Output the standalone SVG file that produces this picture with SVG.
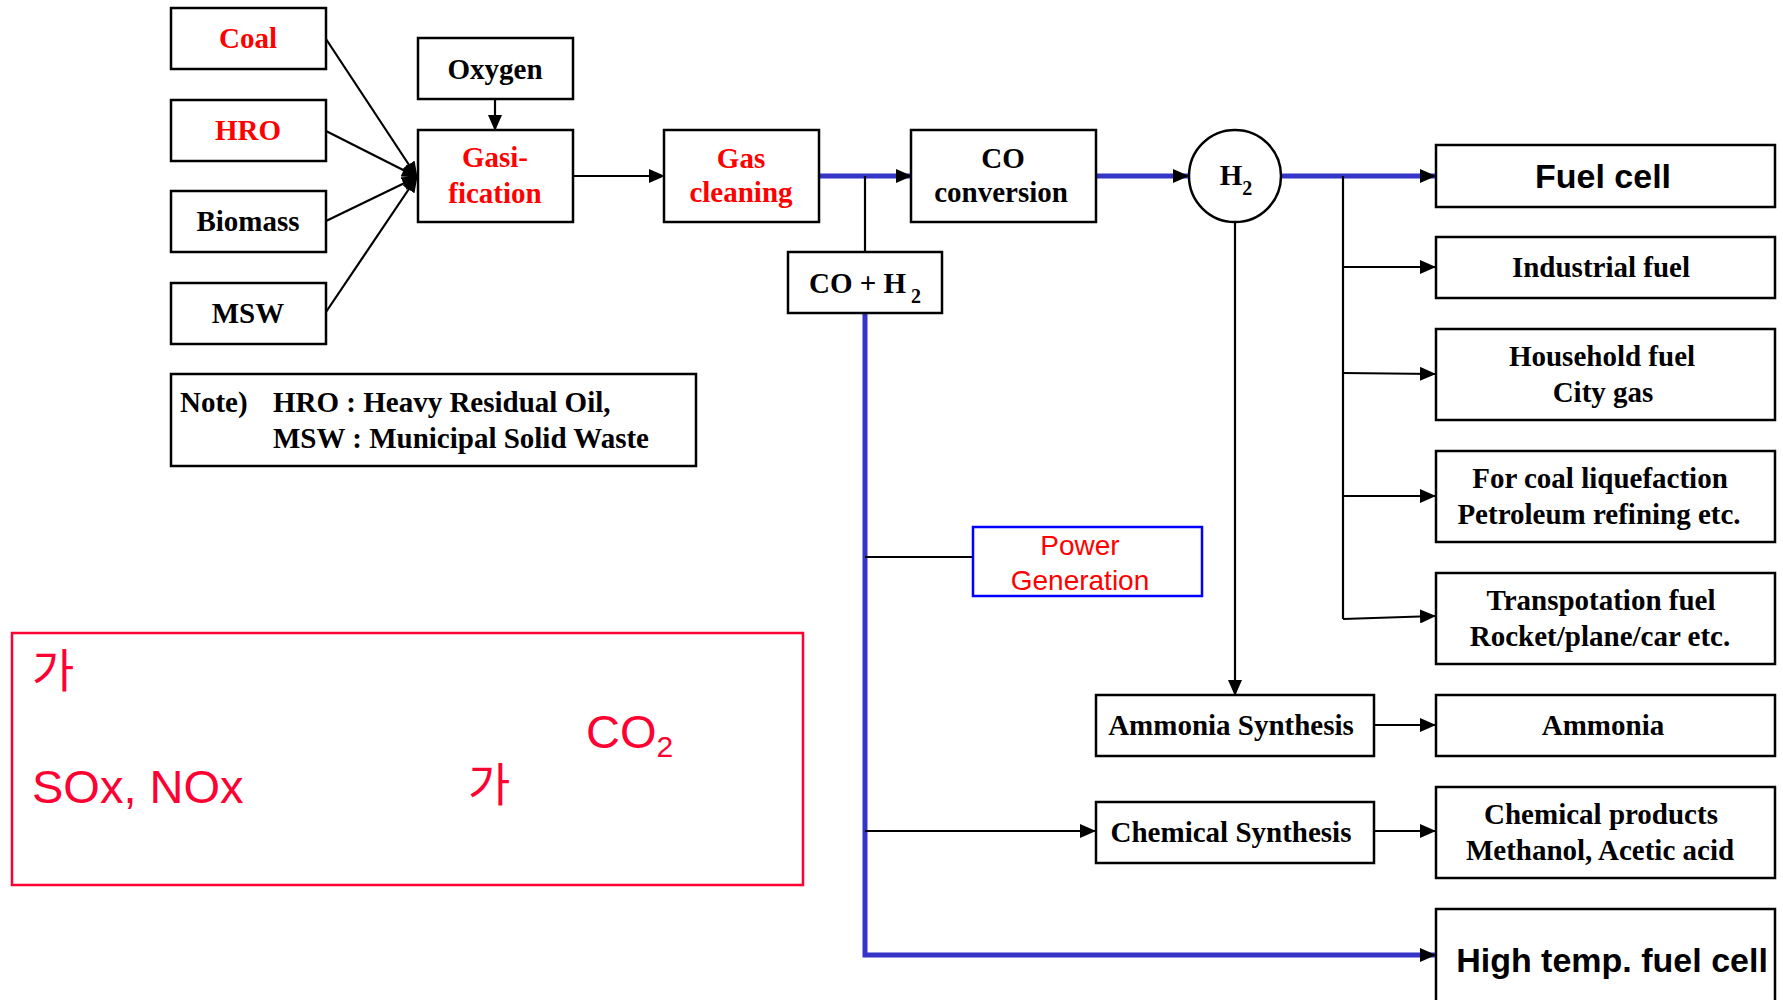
<svg xmlns="http://www.w3.org/2000/svg" width="1783" height="1000" viewBox="0 0 1783 1000">
<style>
.box{fill:#fff;stroke:#000;stroke-width:2.5}
.t{font-family:"Liberation Serif","Times New Roman",serif;font-weight:bold;font-size:29px;fill:#000;text-anchor:middle}
.t.l{text-anchor:start}
.red{fill:#ff0000}
.s{font-family:"Liberation Sans",Arial,sans-serif;font-weight:bold;font-size:34px;fill:#000;text-anchor:middle}
.k{font-family:"Liberation Sans","Noto Sans CJK KR",sans-serif;font-size:47px;fill:#ff0033}
.kr{font-family:"Noto Sans CJK KR",sans-serif;font-size:46px;fill:#ff0033}
.ln{fill:none;stroke:#000;stroke-width:2.2}
.bl{fill:none;stroke:#3535c8;stroke-width:5}
</style>
<defs>
<marker id="ah" markerUnits="userSpaceOnUse" markerWidth="16" markerHeight="14" refX="15" refY="7" orient="auto">
<path d="M0,0 L16,7 L0,14 Z" fill="#000"/>
</marker>
</defs>
<g id="connectors">
<line class="ln" x1="326" y1="39" x2="417" y2="177" marker-end="url(#ah)"/>
<line class="ln" x1="326" y1="131" x2="417" y2="177" marker-end="url(#ah)"/>
<line class="ln" x1="326" y1="221" x2="417" y2="177" marker-end="url(#ah)"/>
<line class="ln" x1="326" y1="312" x2="417" y2="177" marker-end="url(#ah)"/>
<line class="ln" x1="495" y1="99" x2="495" y2="130" marker-end="url(#ah)"/>
<line class="ln" x1="572" y1="176" x2="664" y2="176" marker-end="url(#ah)"/>
<line class="bl" x1="819" y1="176" x2="911" y2="176" marker-end="url(#ah)"/>
<line class="ln" x1="865" y1="176" x2="865" y2="251"/>
<path class="bl" d="M865,314 V955 H1435" marker-end="url(#ah)"/>
<line class="ln" x1="865" y1="557" x2="972" y2="557" stroke-width="1.5"/>
<line class="ln" x1="865" y1="831" x2="1095" y2="831" marker-end="url(#ah)"/>
<line class="bl" x1="1096" y1="176" x2="1188" y2="176" marker-end="url(#ah)"/>
<line class="bl" x1="1282" y1="176" x2="1435" y2="176" marker-end="url(#ah)"/>
<line class="ln" x1="1343" y1="176" x2="1343" y2="619"/>
<line class="ln" x1="1343" y1="267" x2="1435" y2="267" marker-end="url(#ah)"/>
<line class="ln" x1="1343" y1="373" x2="1435" y2="374" marker-end="url(#ah)"/>
<line class="ln" x1="1343" y1="496" x2="1435" y2="496" marker-end="url(#ah)"/>
<line class="ln" x1="1343" y1="619" x2="1435" y2="616" marker-end="url(#ah)"/>
<line class="ln" x1="1235" y1="223" x2="1235" y2="695" marker-end="url(#ah)"/>
<line class="ln" x1="1374" y1="725" x2="1435" y2="725" marker-end="url(#ah)"/>
<line class="ln" x1="1374" y1="831" x2="1435" y2="831" marker-end="url(#ah)"/>
</g>
<g id="coal"><rect class="box" x="171" y="8" width="155" height="61"/><text class="t red" x="248" y="48">Coal</text></g>
<g id="hro"><rect class="box" x="171" y="100" width="155" height="61"/><text class="t red" x="248" y="140">HRO</text></g>
<g id="biomass"><rect class="box" x="171" y="191" width="155" height="61"/><text class="t" x="248" y="231">Biomass</text></g>
<g id="msw"><rect class="box" x="171" y="283" width="155" height="61"/><text class="t" x="248" y="323">MSW</text></g>
<g id="oxygen"><rect class="box" x="418" y="38" width="155" height="61"/><text class="t" x="495" y="79">Oxygen</text></g>
<g id="gasification"><rect class="box" x="418" y="130" width="155" height="92"/><text class="t red" x="495" y="167">Gasi-</text><text class="t red" x="495" y="203">fication</text></g>
<g id="gascleaning"><rect class="box" x="664" y="130" width="155" height="92"/><text class="t red" x="741" y="168">Gas</text><text class="t red" x="741" y="202">cleaning</text></g>
<g id="coconversion"><rect class="box" x="911" y="130" width="185" height="92"/><text class="t" x="1003" y="168">CO</text><text class="t" x="1001" y="202">conversion</text></g>
<g id="coh2"><rect class="box" x="788" y="252" width="154" height="61"/><text class="t l" x="809" y="293">CO + H<tspan font-size="20" dx="5" dy="10">2</tspan></text></g>
<g id="h2"><ellipse cx="1235" cy="176" rx="46" ry="46" fill="#fff" stroke="#000" stroke-width="2.5"/><text class="t" x="1236" y="185">H<tspan font-size="20" dy="10">2</tspan></text></g>
<g id="note"><rect class="box" x="171" y="374" width="525" height="92"/><text class="t l" x="180" y="412">Note)</text><text class="t l" x="273" y="412">HRO : Heavy Residual Oil,</text><text class="t l" x="273" y="448">MSW : Municipal Solid Waste</text></g>
<g id="fuelcell"><rect class="box" x="1436" y="145" width="339" height="62"/><text class="s" x="1603" y="188">Fuel cell</text></g>
<g id="industrial"><rect class="box" x="1436" y="237" width="339" height="61"/><text class="t" x="1601" y="277">Industrial fuel</text></g>
<g id="household"><rect class="box" x="1436" y="329" width="339" height="91"/><text class="t" x="1602" y="366">Household fuel</text><text class="t" x="1603" y="402">City gas</text></g>
<g id="coalliq"><rect class="box" x="1436" y="451" width="339" height="91"/><text class="t" x="1600" y="488">For coal liquefaction</text><text class="t" x="1599" y="524">Petroleum refining etc.</text></g>
<g id="transport"><rect class="box" x="1436" y="573" width="339" height="91"/><text class="t" x="1601" y="610">Transpotation fuel</text><text class="t" x="1600" y="646">Rocket/plane/car etc.</text></g>
<g id="ammoniasyn"><rect class="box" x="1096" y="695" width="278" height="61"/><text class="t" x="1231" y="735">Ammonia Synthesis</text></g>
<g id="ammonia"><rect class="box" x="1436" y="695" width="339" height="61"/><text class="t" x="1603" y="735">Ammonia</text></g>
<g id="chemsyn"><rect class="box" x="1096" y="802" width="278" height="61"/><text class="t" x="1231" y="842">Chemical Synthesis</text></g>
<g id="chemprod"><rect class="box" x="1436" y="787" width="339" height="91"/><text class="t" x="1601" y="824">Chemical products</text><text class="t" x="1600" y="860">Methanol, Acetic acid</text></g>
<g id="hightemp"><rect class="box" x="1436" y="909" width="339" height="100"/><text class="s" x="1612" y="972">High temp. fuel cell</text></g>
<g id="power"><rect x="973" y="527" width="229" height="69" fill="#fff" stroke="#0000ff" stroke-width="2.5"/><text x="1080" y="555" font-family="'Liberation Sans',Arial,sans-serif" font-size="28" fill="#ff0000" text-anchor="middle">Power</text><text x="1080" y="590" font-family="'Liberation Sans',Arial,sans-serif" font-size="28" fill="#ff0000" text-anchor="middle">Generation</text></g>
<g id="notebox"><rect x="12" y="633" width="791" height="252" fill="none" stroke="#ff0033" stroke-width="2.5"/>
<text class="kr" x="32" y="687">가</text>
<text class="k" x="32" y="803">SOx, NOx</text>
<text class="kr" x="468" y="801">가</text>
<text class="k" x="586" y="748">CO<tspan font-size="30" dy="9">2</tspan></text>
</g>
</svg>
